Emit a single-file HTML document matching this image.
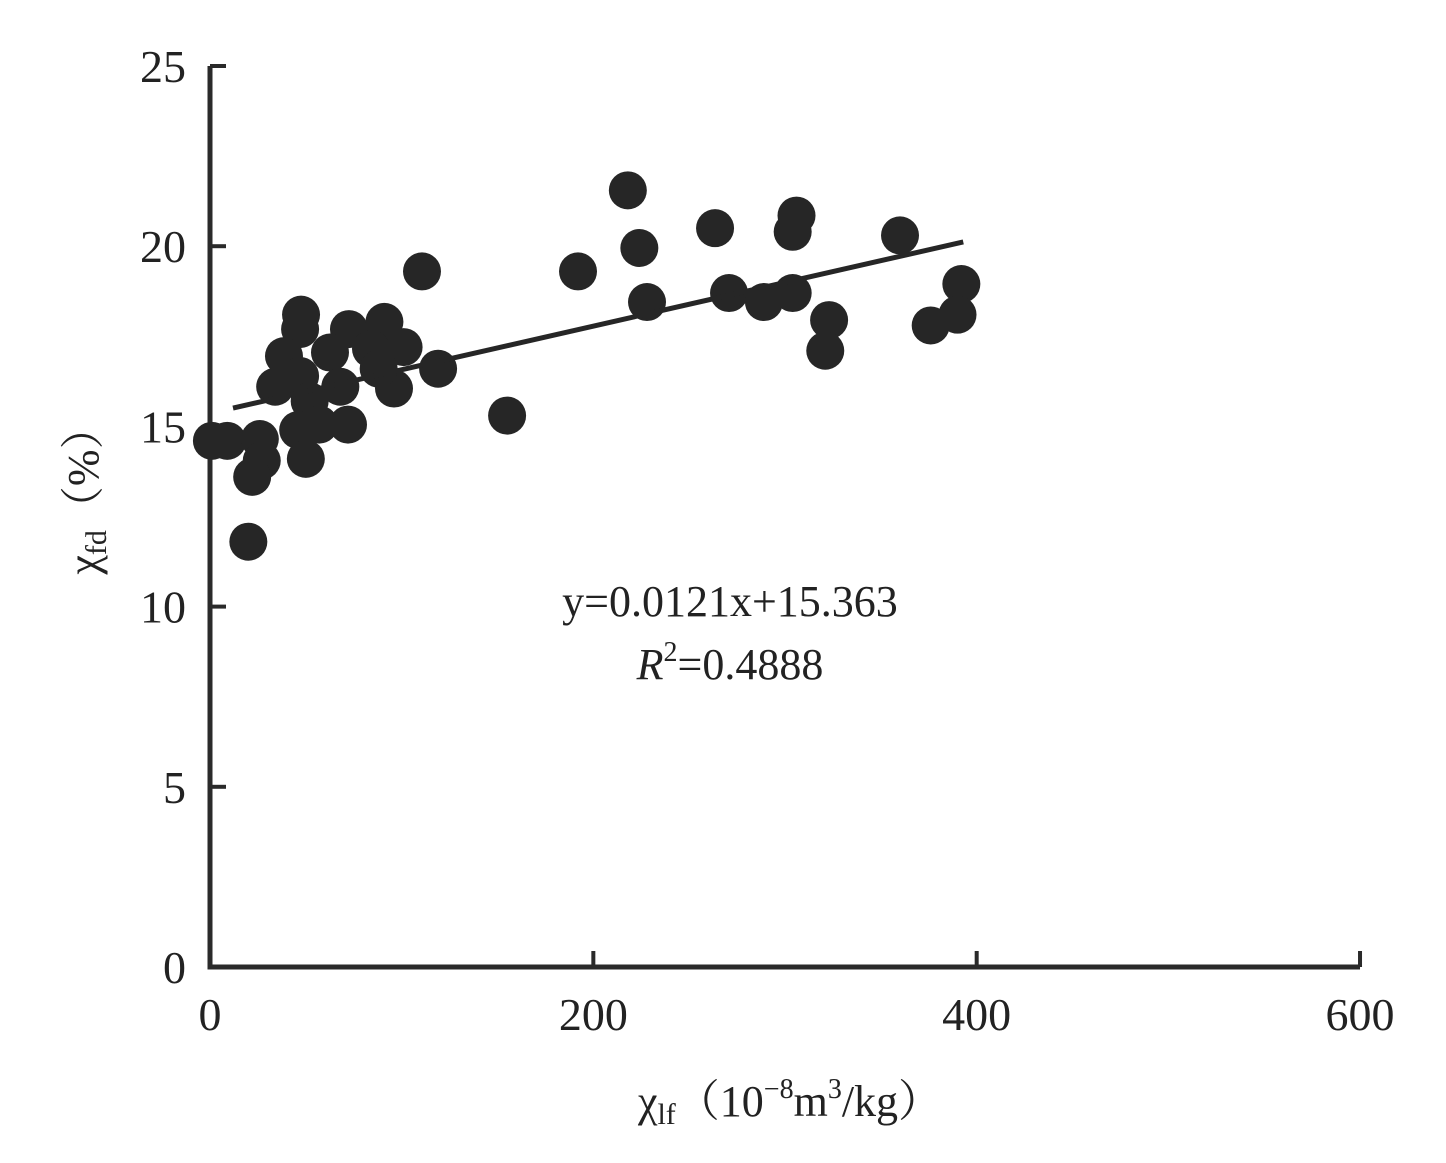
<!DOCTYPE html>
<html><head><meta charset="utf-8"><style>
html,body{margin:0;padding:0;background:#fff;}
svg{display:block;font-family:"Liberation Serif","Noto Serif CJK SC",serif;}
</style></head><body>
<svg id="chart" width="1446" height="1163" viewBox="0 0 1446 1163" xmlns="http://www.w3.org/2000/svg">
<g id="axes"></g>
<g id="points"></g>
<g id="fit"></g>
<text x="730" y="616" font-size="44" text-anchor="middle" fill="#222">y=0.0121x+15.363</text>
<text x="730" y="679" font-size="44" text-anchor="middle" fill="#222"><tspan font-style="italic">R</tspan><tspan font-size="28" dy="-18">2</tspan><tspan dy="18">=0.4888</tspan></text>
<text transform="translate(98,490) rotate(-90)" font-size="44" text-anchor="middle" fill="#222">χ<tspan font-size="30" dy="8">fd</tspan><tspan dy="-8">（%）</tspan></text>
<text x="790" y="1116" font-size="44" text-anchor="middle" fill="#222">χ<tspan font-size="30" dy="8">lf</tspan><tspan dy="-8">（10</tspan><tspan font-size="28" dy="-18">−8</tspan><tspan dy="18">m</tspan><tspan font-size="28" dy="-18">3</tspan><tspan dy="18">/kg）</tspan></text>
</svg>
<script>
const xTicks=[0,200,400,600];
const yTicks=[0,5,10,15,20,25];
const xs=[218,263.5,306,304,360,224,192,110.6,228,270.8,289,304,323,321,376,392,390,155,119,47.5,47,72.5,91,38.6,62.6,101,84,96,88,34,47,68,52,46,57,72,50,9,26,27,22,20,1];
const ys=[21.55,20.5,20.85,20.4,20.3,19.95,19.3,19.3,18.45,18.7,18.45,18.7,17.95,17.1,17.8,18.95,18.1,15.3,16.6,18.1,17.7,17.7,17.9,16.95,17.05,17.2,17.15,16.05,16.6,16.1,16.4,16.1,15.7,14.9,15.05,15.05,14.1,14.6,14.65,14.05,13.6,11.8,14.6];
const slope=[0.0121];
const intercept=[15.363];
const fitRange=[12,393];
const X=v=>210+v*1.9167, Y=v=>967-v*36.04;
const NS="http://www.w3.org/2000/svg";
function mk(t,a,p){const e=document.createElementNS(NS,t);for(const k in a)e.setAttribute(k,a[k]);p.appendChild(e);return e;}
const ax=document.getElementById('axes');
let e=mk('path',{d:`M${X(0)} ${Y(25)} V${Y(0)} H${X(600)}`,stroke:'#2a2a2a','stroke-width':5,fill:'none'},ax);


yTicks.forEach(v=>{
 let t=mk('line',{x1:X(0),x2:X(0)+16,y1:Y(v),y2:Y(v),stroke:'#2a2a2a','stroke-width':4},ax);
 
 
 let l=mk('text',{x:186,y:Y(v)+16,'font-size':46,'text-anchor':'end',fill:'#222'},ax);
 l.textContent=v;
 
 
});
xTicks.forEach(v=>{
 let t=mk('line',{x1:X(v),x2:X(v),y1:Y(0),y2:Y(0)-16,stroke:'#2a2a2a','stroke-width':4},ax);
 
 
 let l=mk('text',{x:X(v),y:1030,'font-size':46,'text-anchor':'middle',fill:'#222'},ax);
 l.textContent=v;
 
 
});
const pg=document.getElementById('points');
xs.forEach((v,i)=>{
 let c=mk('circle',{cx:X(v),cy:Y(ys[i]),r:19,fill:'#262626'},pg);
 
 
});
const fg=document.getElementById('fit');
let ln=mk('line',{x1:X(fitRange[0]),y1:Y(slope[0]*fitRange[0]+intercept[0]),x2:X(fitRange[1]),y2:Y(slope[0]*fitRange[1]+intercept[0]),stroke:'#262626','stroke-width':5},fg);


</script>
</body></html>
